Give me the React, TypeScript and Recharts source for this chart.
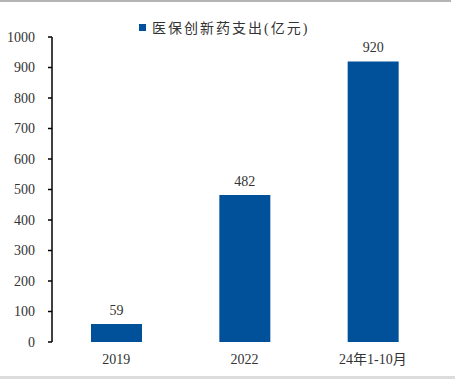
import { BarChart, Bar, XAxis, YAxis, LabelList, Legend } from "recharts";

const categories = ["2019", "2022", "24年1-10月"];
const spending = [59, 482, 920];
const yTicks = [0, 100, 200, 300, 400, 500, 600, 700, 800, 900, 1000];
const boundaryTicks = [0, 1, 2, 3];
const seriesName = "医保创新药支出(亿元)";

const data = categories.map((name, i) => ({ name, value: spending[i] }));

const BLUE = "#00509A";
const FONT = "'Liberation Serif', 'Times New Roman', 'Noto Sans CJK SC', serif";

function LegendContent() {
  return (
    <div style={{ display: "flex", alignItems: "center", fontFamily: FONT, fontSize: 14, color: "#333", letterSpacing: 2 }}>
      <span style={{ width: 7, height: 7, background: BLUE, display: "inline-block", marginRight: 6 }} />
      <span>{seriesName}</span>
    </div>
  );
}

export default function App() {
  return (
    <div
      style={{
        position: "absolute",
        left: 0,
        top: 0,
        width: 455,
        height: 379,
        background: "#fff",
      }}
    >
      <div style={{ position: "absolute", left: 0, top: 0, width: 451, height: 2, background: "#b4b4b4" }} />
      <div style={{ position: "absolute", left: 0, top: 376, width: 455, height: 3, background: "#dcdcdc" }} />
      <BarChart
        width={455}
        height={379}
        data={data}
        margin={{ top: 17, right: 18, left: 0, bottom: 7 }}
        style={{ fontFamily: FONT }}
      >
        <Legend
          verticalAlign="top"
          align="left"
          height={20}
          content={<LegendContent />}
          wrapperStyle={{ top: 17, left: 139, width: 200 }}
        />
        <XAxis
          xAxisId="frame"
          type="number"
          domain={[0, 3]}
          ticks={boundaryTicks}
          height={0}
          tickSize={5}
          tickFormatter={() => ""}
          tickLine={{ stroke: "#000", strokeWidth: 1.5 }}
          axisLine={{ stroke: "#000", strokeWidth: 1.5 }}
        />
        <XAxis
          dataKey="name"
          height={30}
          axisLine={false}
          tickLine={false}
          tick={{ fill: "#333", fontSize: 14 }}
          tickMargin={6}
        />
        <YAxis
          domain={[0, 1000]}
          ticks={yTicks}
          width={52}
          interval={0}
          tickSize={4}
          tickLine={{ stroke: "#000", strokeWidth: 1.5 }}
          axisLine={{ stroke: "#000", strokeWidth: 1.5 }}
          tick={{ fill: "#333", fontSize: 14 }}
          tickMargin={13}
        />
        <Bar dataKey="value" fill={BLUE} barSize={51} isAnimationActive={false}>
          <LabelList dataKey="value" position="top" offset={9} fill="#333" fontSize={14} />
        </Bar>
      </BarChart>
    </div>
  );
}
